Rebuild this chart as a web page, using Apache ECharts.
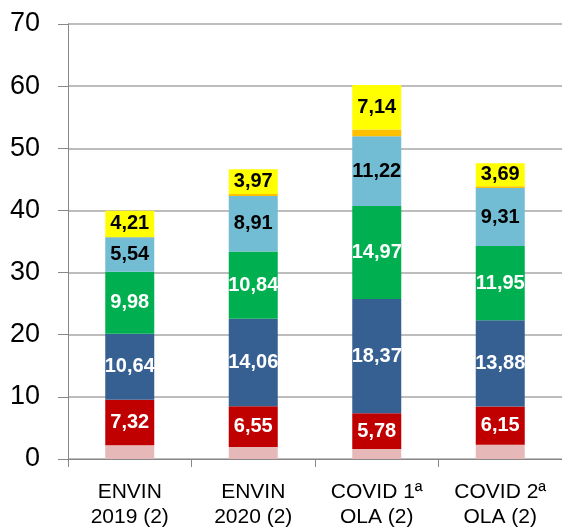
<!DOCTYPE html>
<html><head><meta charset="utf-8">
<script src="https://cdn.jsdelivr.net/npm/echarts@6/dist/echarts.min.js"></script>
<style>html,body{margin:0;padding:0;background:#fff}#c{width:562px;height:532px}</style>
</head><body><div id="c"></div>
<script>
const categories = ['ENVIN\n2019 (2)', 'ENVIN\n2020 (2)', 'COVID 1ª\nOLA (2)', 'COVID 2ª\nOLA (2)'];
const pinkVals = [2.2, 1.95, 1.6, 2.3];
const redVals = [7.32, 6.55, 5.78, 6.15];
const darkBlueVals = [10.64, 14.06, 18.37, 13.88];
const greenVals = [9.98, 10.84, 14.97, 11.95];
const lightBlueVals = [5.54, 8.91, 11.22, 9.31];
const orangeVals = [0.05, 0.35, 1.1, 0.3];
const yellowVals = [4.21, 3.97, 7.14, 3.69];
const yTicks = [0, 10, 20, 30, 40, 50, 60, 70];

const fmt = p => p.value.toFixed(2).replace('.', ',');
function mk(name, data, color, labelColor) {
  return {
    name, type: 'bar', stack: 'total', data, barWidth: 49,
    itemStyle: { color },
    label: labelColor ? {
      show: true, position: 'inside', color: labelColor,
      fontFamily: 'Liberation Sans, Arial, sans-serif', fontWeight: 'bold', fontSize: 20,
      formatter: fmt
    } : { show: false }
  };
}
const chart = echarts.init(document.getElementById('c'), null, { renderer: 'canvas' });
chart.setOption({
  animation: false,
  grid: { left: 68, right: 0, top: 24, bottom: 73 },
  xAxis: {
    type: 'category', data: categories,
    axisLine: { lineStyle: { color: '#888', width: 1 } },
    axisTick: { show: true, length: 8, lineStyle: { color: '#888' } },
    axisLabel: { color: '#000', fontFamily: 'Liberation Sans, Arial, sans-serif', fontSize: 21, lineHeight: 25, margin: 21 }
  },
  yAxis: {
    type: 'value', min: yTicks[0], max: yTicks[yTicks.length - 1], interval: 10,
    axisLine: { show: true, lineStyle: { color: '#888' } },
    axisTick: { show: true, length: 10, inside: false, lineStyle: { color: '#888' } },
    splitLine: { lineStyle: { color: '#bdbdbd', width: 2 } },
    axisLabel: { color: '#000', fontFamily: 'Liberation Sans, Arial, sans-serif', fontSize: 27, margin: 28 }
  },
  series: [
    mk('pink', pinkVals, '#E6B9B8', null),
    mk('red', redVals, '#C00000', '#fff'),
    mk('darkblue', darkBlueVals, '#376092', '#fff'),
    mk('green', greenVals, '#00B050', '#fff'),
    mk('lightblue', lightBlueVals, '#72BCD4', '#000'),
    mk('orange', orangeVals, '#FFC000', null),
    mk('yellow', yellowVals, '#FFFF00', '#000')
  ]
});
</script></body></html>
